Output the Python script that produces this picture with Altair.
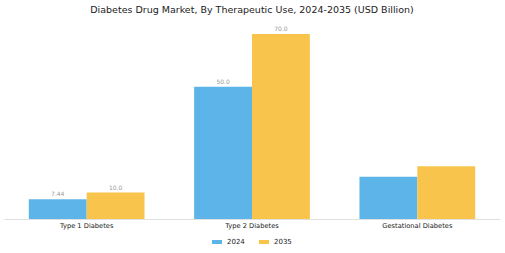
import altair as alt
import pandas as pd

categories = ["Type 1 Diabetes", "Type 2 Diabetes", "Gestational Diabetes"]
years = ["2024", "2035"]
values_2024 = [7.44, 50.0, 16.0]
values_2035 = [10.0, 70.0, 20.0]
labels_2024 = ["7.44", "50.0", ""]
labels_2035 = ["10.0", "70.0", ""]

rows = []
for i, c in enumerate(categories):
    rows.append({"cat": c, "year": "2024", "value": values_2024[i], "label": labels_2024[i]})
    rows.append({"cat": c, "year": "2035", "value": values_2035[i], "label": labels_2035[i]})
df = pd.DataFrame(rows)

FONT = "DejaVu Sans"

x = alt.X("cat:N", sort=categories, title=None,
          scale=alt.Scale(paddingInner=0.3, paddingOuter=0.15),
          axis=alt.Axis(labelAngle=0, ticks=False, domainColor="#e0e0e0", domainWidth=1,
                        labelFontSize=6.7, labelColor="#222", labelFont=FONT, labelPadding=3))
xo = alt.XOffset("year:N", sort=years, scale=alt.Scale(paddingInner=0, paddingOuter=0))
y = alt.Y("value:Q", title=None, scale=alt.Scale(domain=[0, 71.5], nice=False), axis=None)

bars = alt.Chart(df).mark_bar().encode(
    x=x, xOffset=xo, y=y,
    color=alt.Color("year:N", sort=years,
                    scale=alt.Scale(domain=years, range=["#5DB4E8", "#F9C44B"]),
                    legend=alt.Legend(title=None, orient="none", direction="horizontal",
                                      legendX=208, legendY=207,
                                      symbolType="M-1,-0.4H1V0.4H-1Z", symbolSize=100,
                                      symbolStrokeWidth=0,
                                      labelFontSize=7, labelFont=FONT, labelColor="#222",
                                      columnPadding=14, symbolOffset=0, labelOffset=5)),
)

text = alt.Chart(df).mark_text(dy=-2, fontSize=6, color="#999999", font=FONT, baseline="bottom").encode(
    x=x, xOffset=xo, y=y, text="label:N"
)

chart = alt.layer(bars, text).properties(
    width=496, height=189,
    title=alt.TitleParams("Diabetes Drug Market, By Therapeutic Use, 2024-2035 (USD Billion)",
                          fontSize=9.5, font=FONT, fontWeight="normal", color="#222", offset=11, anchor="middle"),
    autosize=alt.AutoSizeParams(type="none"),
    padding={"left": 4, "top": 30, "right": 5, "bottom": 34},
).configure_view(stroke=None)

chart.save("out.html", embed_options={"renderer": "svg", "actions": False})
